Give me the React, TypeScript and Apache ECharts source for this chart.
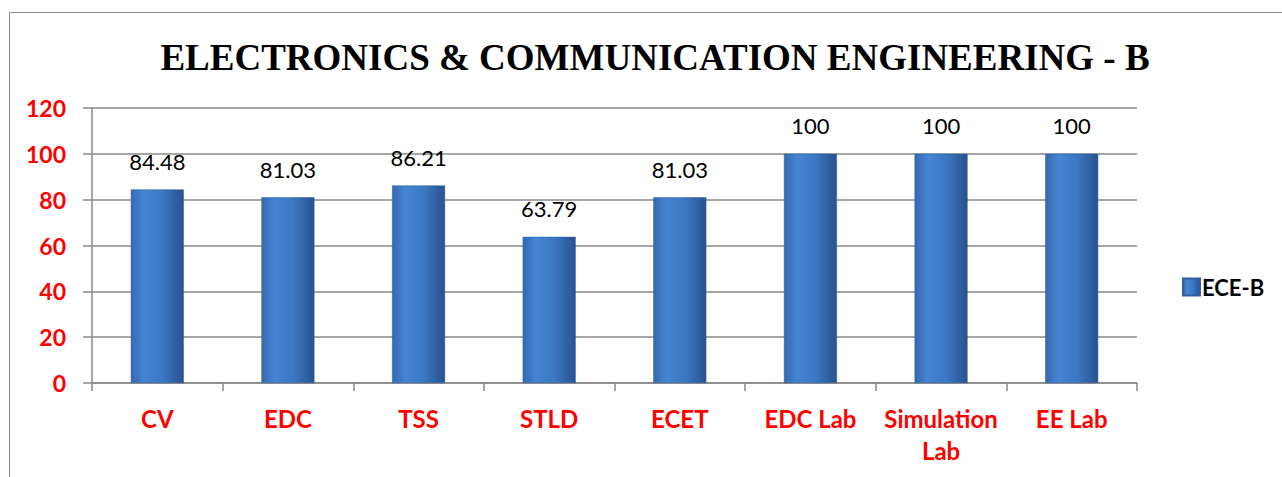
import React, { useEffect, useRef } from "react";
import * as echarts from "echarts";

const categories = ["CV", "EDC", "TSS", "STLD", "ECET", "EDC Lab", "Simulation\nLab", "EE Lab"];
const values = [84.48, 81.03, 86.21, 63.79, 81.03, 100, 100, 100];
const seriesName = "ECE-B";
const titleText = "ELECTRONICS & COMMUNICATION ENGINEERING - B";
const yTicks = { min: 0, max: 120, interval: 20 };

export default function App() {
  const ref = useRef<HTMLDivElement>(null);
  useEffect(() => {
    if (!ref.current) return;
    const chart = echarts.init(ref.current, null, { renderer: "svg" });
    const barColor = new echarts.graphic.LinearGradient(0, 0, 1, 0, [
      { offset: 0, color: "#3569b0" },
      { offset: 0.25, color: "#4585d2" },
      { offset: 0.6, color: "#3b77c2" },
      { offset: 1, color: "#29528f" },
    ]);
    chart.setOption({
      animation: false,
      backgroundColor: "#ffffff",
      graphic: [
        {
          type: "rect",
          shape: { x: 9.5, y: 12.5, width: 1300, height: 500 },
          style: { fill: "none", stroke: "#8a8a8a", lineWidth: 1 },
          silent: true,
        },
      ],
      title: {
        text: titleText,
        left: 650,
        textAlign: "center",
        top: 34,
        textStyle: {
          fontFamily: "Liberation Serif",
          fontWeight: "bold",
          fontSize: 37,
          color: "#000",
        },
      },
      legend: {
        data: [seriesName],
        left: 1177,
        top: 271,
        icon: "rect",
        itemWidth: 17,
        itemHeight: 17,
        itemGap: 4,
        textStyle: {
          fontFamily: "Lato",
          fontWeight: "bold",
          fontSize: 22,
          color: "#000",
          padding: [0, 0, 0, -3],
        },
      },
      grid: { left: 92, top: 108, right: 145, bottom: 94, containLabel: false },
      xAxis: {
        type: "category",
        data: categories,
        axisLine: { show: true, lineStyle: { color: "#8a8a8a", width: 1.5 } },
        axisTick: { show: true, length: 8, lineStyle: { color: "#8a8a8a", width: 1.5 } },
        axisLabel: {
          color: "#ff0000",
          fontFamily: "Lato",
          fontWeight: "bold",
          fontSize: 24,
          lineHeight: 32,
          margin: 19,
          interval: 0,
        },
      },
      yAxis: {
        type: "value",
        min: yTicks.min,
        max: yTicks.max,
        interval: yTicks.interval,
        axisLine: { show: true, lineStyle: { color: "#8a8a8a", width: 1.5 } },
        axisTick: { show: true, length: 9, lineStyle: { color: "#8a8a8a", width: 1.5 } },
        splitLine: { show: true, lineStyle: { color: "#8a8a8a", width: 1.5 } },
        axisLabel: {
          color: "#ff0000",
          fontFamily: "Lato",
          fontWeight: "bold",
          fontSize: 23,
          margin: 26,
        },
      },
      series: [
        {
          name: seriesName,
          type: "bar",
          data: values,
          barWidth: 53,
          itemStyle: {
            color: barColor,
            borderColor: "#2f5f9f",
            borderWidth: 0.5,
          },
          label: {
            show: true,
            position: "top",
            distance: 17,
            color: "#000",
            fontFamily: "Lato",
            fontSize: 22,
          },
        },
      ],
    });
    return () => chart.dispose();
  }, []);
  return (
    <div
      ref={ref}
      style={{ position: "absolute", left: 0, top: 0, width: 1282, height: 477 }}
    />
  );
}
